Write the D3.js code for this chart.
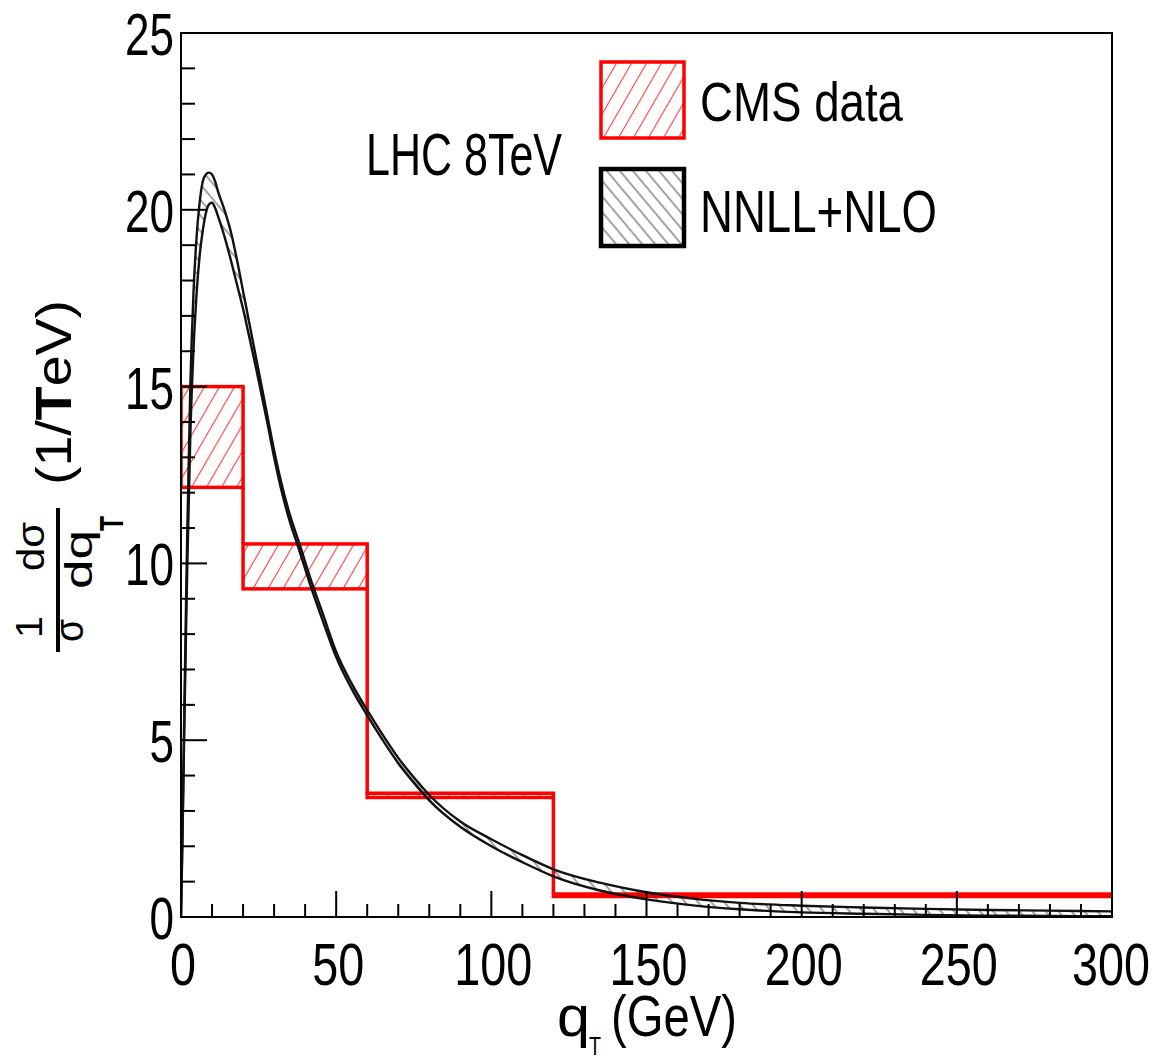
<!DOCTYPE html>
<html>
<head>
<meta charset="utf-8">
<script src="https://cdn.jsdelivr.net/npm/d3@7"></script>
<style>
  html, body { margin: 0; padding: 0; background: #fff; }
  svg { display: block; font-family: "Liberation Sans", Arial, Helvetica, sans-serif; }
</style>
</head>
<body>
<svg id="chart" width="1161" height="1060"></svg>
<script>
// q_T grid (GeV) for the NNLL+NLO uncertainty band
const qT = [0, 0.5, 1, 1.5, 2, 3, 4, 5, 6, 7, 8, 9, 10, 11, 12, 14, 16, 18, 20, 22, 24, 26, 28, 30, 32, 35, 38, 42, 46, 50, 55, 60, 65, 70, 75, 80, 90, 100, 110, 120, 135, 150, 165, 180, 200, 220, 240, 260, 280, 300];
const nnllUpper = [0, 2.6, 5.4, 8.2, 10.8, 15.0, 17.6, 19.2, 20.2, 20.8, 21.0, 21.05, 21.0, 20.8, 20.5, 20.0, 19.4, 18.6, 17.7, 16.8, 15.9, 15.0, 14.1, 13.2, 12.4, 11.4, 10.6, 9.5, 8.5, 7.5, 6.6, 5.85, 5.15, 4.5, 3.95, 3.45, 2.7, 2.2, 1.75, 1.35, 0.97, 0.7, 0.52, 0.4, 0.32, 0.27, 0.23, 0.2, 0.18, 0.16];
const nnllLower = [0, 2.3, 5.0, 7.5, 9.8, 13.6, 16.0, 17.6, 18.7, 19.4, 19.9, 20.15, 20.2, 20.05, 19.8, 19.25, 18.6, 17.9, 17.2, 16.4, 15.6, 14.75, 13.9, 13.0, 12.2, 11.2, 10.4, 9.3, 8.3, 7.35, 6.45, 5.7, 5.0, 4.35, 3.8, 3.3, 2.55, 2.0, 1.55, 1.15, 0.75, 0.5, 0.33, 0.22, 0.13, 0.09, 0.06, 0.04, 0.03, 0.02];

// CMS measurement: bin edges and error band (high / low)
const binEdges = [0, 20, 60, 120, 300];
const cmsHigh = [15.0, 10.55, 3.5, 0.65];
const cmsLow = [12.15, 9.28, 3.38, 0.58];

// axis tick labels
const xTicks = [0, 50, 100, 150, 200, 250, 300];
const yTicks = [0, 5, 10, 15, 20, 25];

const svg = d3.select("#chart");
const x = d3.scaleLinear().domain([0, 300]).range([181, 1112]);
const y = d3.scaleLinear().domain([0, 25]).range([917, 33]);

// hatch patterns
const defs = svg.append("defs");
function hatch(id, color, spacing, angle, width) {
  const p = defs.append("pattern")
    .attr("id", id)
    .attr("patternUnits", "userSpaceOnUse")
    .attr("width", spacing).attr("height", spacing)
    .attr("patternTransform", `rotate(${angle})`);
  p.append("line")
    .attr("x1", spacing / 2).attr("y1", 0)
    .attr("x2", spacing / 2).attr("y2", spacing)
    .attr("stroke", color).attr("stroke-width", width);
}
hatch("hatchRed", "#ff4040", 13, 30, 1.1);
hatch("hatchBlack", "#333", 10, -40, 0.9);

defs.append("clipPath").attr("id", "frameClip")
  .append("rect")
  .attr("x", x(0)).attr("y", y(25))
  .attr("width", x(300) - x(0)).attr("height", y(0) - y(25));

const plot = svg.append("g").attr("clip-path", "url(#frameClip)");

// CMS data: hatched error boxes with a red step outline
const bins = cmsHigh.map((h, i) => ({ x0: binEdges[i], x1: binEdges[i + 1], hi: h, lo: cmsLow[i] }));
plot.selectAll("rect.cms").data(bins).enter().append("rect")
  .attr("class", "cms")
  .attr("x", d => x(d.x0)).attr("y", d => y(d.hi))
  .attr("width", d => x(d.x1) - x(d.x0))
  .attr("height", d => y(d.lo) - y(d.hi))
  .attr("fill", "url(#hatchRed)")
  .attr("stroke", "#ff0000").attr("stroke-width", 3.5);
plot.selectAll("line.cmsStep").data(bins.slice(0, -1)).enter().append("line")
  .attr("class", "cmsStep")
  .attr("x1", d => x(d.x1)).attr("x2", d => x(d.x1))
  .attr("y1", d => y(d.lo))
  .attr("y2", (d, i) => y(bins[i + 1].hi))
  .attr("stroke", "#ff0000").attr("stroke-width", 3.5);

// NNLL+NLO band
const band = qT.map((q, i) => ({ q, up: nnllUpper[i], lo: nnllLower[i] }));
plot.append("path").datum(band)
  .attr("d", d3.area().x(d => x(d.q)).y0(d => y(d.lo)).y1(d => y(d.up)).curve(d3.curveMonotoneX))
  .attr("fill", "url(#hatchBlack)");
["up", "lo"].forEach(k => {
  plot.append("path").datum(band)
    .attr("d", d3.line().x(d => x(d.q)).y(d => y(d[k])).curve(d3.curveMonotoneX))
    .attr("fill", "none").attr("stroke", "#111").attr("stroke-width", 2.4);
});

// frame
svg.append("rect")
  .attr("x", x(0)).attr("y", y(25))
  .attr("width", x(300) - x(0)).attr("height", y(0) - y(25))
  .attr("fill", "none").attr("stroke", "#000").attr("stroke-width", 2);

// ticks (inside the frame)
const tickG = svg.append("g").attr("stroke", "#000").attr("stroke-width", 2);
d3.range(0, 301, 10).forEach(v => {
  const major = v % 50 === 0;
  tickG.append("line").attr("x1", x(v)).attr("x2", x(v))
    .attr("y1", y(0)).attr("y2", y(0) - (major ? 26 : 13));
});
d3.range(0, 26, 1).forEach(v => {
  const major = v % 5 === 0;
  tickG.append("line").attr("x1", x(0)).attr("x2", x(0) + (major ? 26 : 14))
    .attr("y1", y(v)).attr("y2", y(v));
});

// squeezed text helper: font size from glyph height, width from textLength
function label(g, str, x0, yb, size, len) {
  return g.append("text")
    .attr("x", x0).attr("y", yb)
    .attr("font-size", size)
    .attr("textLength", len).attr("lengthAdjust", "spacingAndGlyphs")
    .attr("fill", "#000")
    .text(str);
}

// tick labels
xTicks.forEach(v => {
  const s = String(v), len = 26 * s.length;
  label(svg, s, Math.min(x(v) - len / 2 + 2, 1150 - len), 985, 59, len);
});
yTicks.forEach(v => {
  const s = String(v), len = 24.5 * s.length;
  label(svg, s, 174 - len, y(v) + 22, 60, len);
});

// x-axis title: q_T (GeV)
label(svg, "q", 557, 1036, 58, 33);
label(svg, "T", 589, 1055, 26, 12);
label(svg, "(GeV)", 611, 1036, 58, 126);

// y-axis title: 1/σ dσ/dq_T (1/TeV), rotated
const yt = svg.append("g").attr("transform", "translate(58,0) rotate(-90)");
yt.append("rect").attr("x", -652).attr("y", -2).attr("width", 144).attr("height", 4).attr("fill", "#000");
label(yt, "1", -638, -16, 36, 22);
label(yt, "σ", -642, 25, 40, 23);
label(yt, "dσ", -571, -14, 38, 49);
label(yt, "dq", -589, 34, 38, 59);
label(yt, "T", -531, 65, 34, 15).attr("font-weight", "bold");
const unit = label(yt, "", -485, 13, 50, 185);
unit.append("tspan").text("(1/");
unit.append("tspan").attr("font-weight", "bold").text("T");
unit.append("tspan").text("eV)");

// annotation
label(svg, "LHC 8TeV", 366, 175, 60, 196);

// legend
svg.append("rect").attr("x", 601).attr("y", 62).attr("width", 83).attr("height", 76)
  .attr("fill", "url(#hatchRed)").attr("stroke", "#ff0000").attr("stroke-width", 3.5);
svg.append("rect").attr("x", 601).attr("y", 169).attr("width", 83).attr("height", 77)
  .attr("fill", "url(#hatchBlack)").attr("stroke", "#000").attr("stroke-width", 4.5);
label(svg, "CMS data", 700, 121, 56, 203);
label(svg, "NNLL+NLO", 700, 232, 60, 237);
</script>
</body>
</html>
